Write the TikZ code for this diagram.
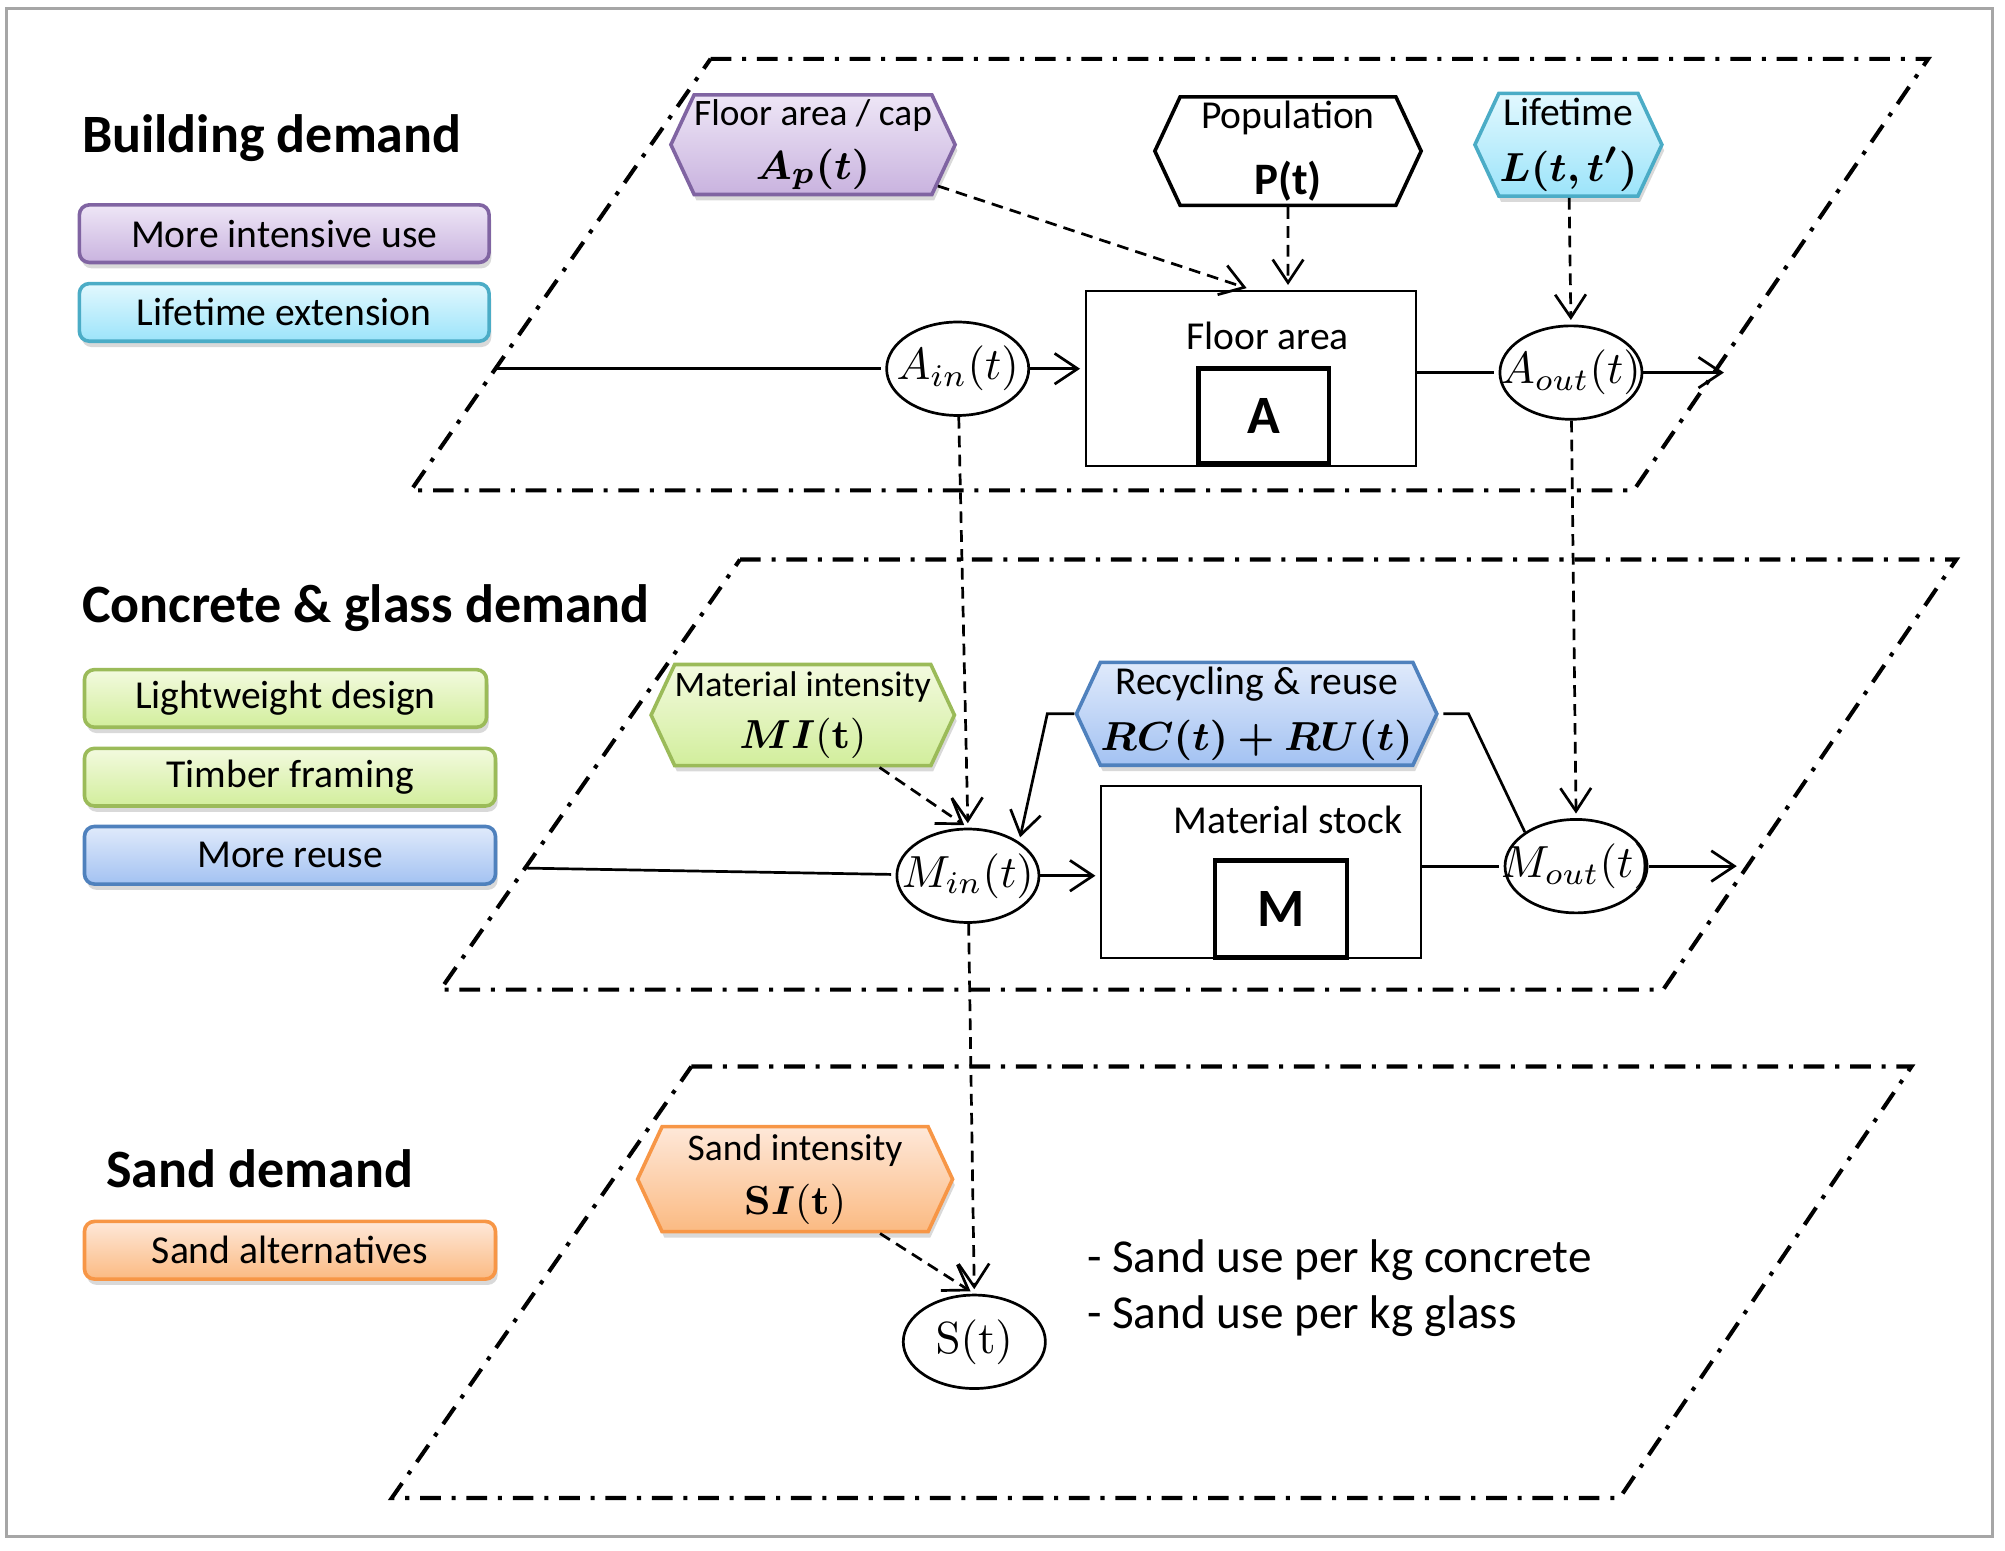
\documentclass[tikz,border=0pt]{standalone}
\usepackage[no-math]{fontspec}
\setmainfont{Carlito}
\usepackage{amsmath,bm}
\usetikzlibrary{arrows.meta,shapes.geometric,shapes.symbols,shadows}

\definecolor{lilacline}{HTML}{8064A2}
\definecolor{lilactop}{HTML}{EEE6F6}
\definecolor{lilacbot}{HTML}{C9B3DF}
\definecolor{aqualine}{HTML}{4BACC6}
\definecolor{aquatop}{HTML}{E2F8FE}
\definecolor{aquabot}{HTML}{9CE4FA}
\definecolor{limeline}{HTML}{9BBB59}
\definecolor{limetop}{HTML}{F3FADF}
\definecolor{limebot}{HTML}{D2EE9C}
\definecolor{azureline}{HTML}{4F81BD}
\definecolor{azuretop}{HTML}{E0EAFB}
\definecolor{azurebot}{HTML}{A3C2F2}
\definecolor{amberline}{HTML}{F79646}
\definecolor{ambertop}{HTML}{FEE8D9}
\definecolor{amberbot}{HTML}{FBBA82}

\begin{document}
\begin{tikzpicture}[>={Straight Barb[length=1.8mm,width=2.4mm]},shorten >=1pt,line width=0.6pt]
  \tikzset{every node/.style={font=\fontsize{8.8}{10.5}\selectfont},
    layer/.style={line width=0.9pt,dash pattern=on 4.6pt off 2.4pt on 0.9pt off 2.4pt},
    heading/.style={anchor=west,inner sep=0pt,font=\fontsize{12}{14}\selectfont\bfseries},
    lever/.style={draw,rounded corners=2.2pt,line width=0.8pt,minimum width=3.2cm,minimum height=0.45cm,inner sep=0pt,
      drop shadow={shadow xshift=0.5pt,shadow yshift=-1.3pt,opacity=0.3}},
    param/.style={signal,signal to=west and east,signal pointer angle=130,draw,line width=0.8pt,align=center,inner xsep=0pt,inner ysep=1pt},
    shade/.style={drop shadow={shadow xshift=0.5pt,shadow yshift=-1.3pt,opacity=0.3}},
    flow/.style={ellipse,draw,minimum width=1.11cm,minimum height=0.73cm,inner sep=0pt,font=\fontsize{9.6}{11.5}\selectfont},
    stock/.style={draw,line width=0.5pt},
    core/.style={draw,line width=1pt,font=\fontsize{12}{14}\selectfont\bfseries},
    dashflow/.style={dash pattern=on 2.6pt off 1.6pt},
    lilac/.style={draw=lilacline,top color=lilactop,bottom color=lilacbot},
    aqua/.style={draw=aqualine,top color=aquatop,bottom color=aquabot},
    lime/.style={draw=limeline,top color=limetop,bottom color=limebot},
    azure/.style={draw=azureline,top color=azuretop,bottom color=azurebot},
    amber/.style={draw=amberline,top color=ambertop,bottom color=amberbot}}
  \useasboundingbox (0,0) rectangle (15.66,-12.114);
  \draw[gray!70,line width=0.65pt] (0.05,-0.065) rectangle (15.56,-12.00);

  \draw[layer] (5.55,-0.46) -- (15.06,-0.46) -- (12.76,-3.83) -- (3.21,-3.83) -- cycle;
  \draw[layer] (5.78,-4.37) -- (15.28,-4.37) -- (12.99,-7.73) -- (3.44,-7.73) -- cycle;
  \draw[layer] (5.40,-8.33) -- (14.93,-8.33) -- (12.65,-11.70) -- (3.06,-11.70) -- cycle;

  \node[heading] (bd) at (0.63,-1.08) {Building demand};
  \node[heading] (cd) at (0.63,-4.75) {Concrete \& glass demand};
  \node[heading] (sd) at (0.82,-9.13) {Sand demand};

  \node[lever,lilac] (use) at (2.22,-1.825) {More intensive use};
  \node[lever,aqua] (ext) at (2.22,-2.44) {Lifetime extension};
  \node[lever,lime,minimum width=3.14cm] (light) at (2.23,-5.455) {Lightweight design};
  \node[lever,lime,minimum width=3.21cm] (timber) at (2.265,-6.07) {Timber framing};
  \node[lever,azure,minimum width=3.21cm] (reuse) at (2.265,-6.68) {More reuse};
  \node[lever,amber,minimum width=3.21cm] (alt) at (2.265,-9.765) {Sand alternatives};

  \node[param,lilac,shade,minimum width=2.16cm,minimum height=0.76cm,font=\fontsize{8.3}{10}\selectfont] (FAcap) at (6.35,-1.13) {Floor area / cap\\[2pt]{\fontsize{9.5}{11}\selectfont$\bm{A_p(t)}$}};
  \node[param,fill=white,minimum width=2.08cm,minimum height=0.81cm] (Pop) at (10.06,-1.18) {Population\\[4pt]{\fontsize{10}{12}\selectfont\bfseries P(t)}};
  \node[param,aqua,shade,minimum width=1.46cm,minimum height=0.80cm] (Life) at (12.25,-1.13) {Lifetime\\[2pt]{\fontsize{9.5}{11}\selectfont$\bm{L(t,t')}$}};
  \node[flow] (Ain) at (7.48,-2.88) {\makebox[0pt]{$A_{in}(t)$}};
  \node[stock,minimum width=2.58cm,minimum height=1.37cm] (FA) at (9.77,-2.955) {};
  \node (FAtext) at (9.90,-2.62) {Floor area};
  \node[core,minimum width=1.02cm,minimum height=0.74cm] (A) at (9.87,-3.25) {A};
  \node[flow] (Aout) at (12.27,-2.91) {\makebox[0pt]{$A_{out}(t)$}};
  \coordinate (Ain0) at (3.86,-2.88);
  \coordinate (Aend) at (13.50,-2.91);

  \node[param,lime,shade,minimum width=2.31cm,minimum height=0.79cm,font=\fontsize{7.95}{9.5}\selectfont] (MI) at (6.27,-5.585) {Material intensity\\[2pt]{\fontsize{9.5}{11}\selectfont$\bm{MI}(\mathbf{t})$}};
  \node[param,azure,shade,minimum width=2.69cm,minimum height=0.77cm] (RR) at (9.815,-5.575) {Recycling \& reuse\\[2pt]{\fontsize{8.6}{10}\selectfont$\bm{RC(t)+RU(t)}$}};
  \node[flow] (Min) at (7.56,-6.84) {\makebox[0pt]{$M_{in}(t)$}};
  \node[stock,minimum width=2.50cm,minimum height=1.34cm] (MS) at (9.85,-6.81) {};
  \node (MStext) at (10.06,-6.40) {Material stock};
  \node[core,minimum width=1.03cm,minimum height=0.76cm] (M) at (10.005,-7.10) {M};
  \node[flow] (Mout) at (12.31,-6.765) {\makebox[0pt]{$M_{out}(t)$}};
  \coordinate (Min0) at (4.09,-6.78);
  \coordinate (Mend) at (13.60,-6.765);
  \coordinate (RRr) at (11.47,-5.575);
  \coordinate (RRl) at (8.18,-5.575);

  \node[param,amber,shade,minimum width=2.46cm,minimum height=0.82cm,font=\fontsize{8.35}{10}\selectfont] (SI) at (6.21,-9.21) {Sand intensity\\[2pt]{\fontsize{9.5}{11}\selectfont$\mathbf{S}\bm{I}(\mathbf{t})$}};
  \node[flow] (S) at (7.61,-10.48) {\makebox[0pt]{$\mathrm{S(t)}$}};
  \node[anchor=west,align=left,inner sep=0pt,font=\fontsize{10.5}{12.6}\selectfont] (uses) at (8.48,-10.06) {- Sand use per kg concrete\\- Sand use per kg glass};

  \path (Ain0) edge (Ain);
  \path[->] (Ain) edge (Ain -| FA.west);
  \path (Aout -| FA.east) edge (Aout);
  \path[->] (Aout) edge (Aend);
  \path[->,dashflow] (FAcap) edge (FA.north);
  \path[->,dashflow] (Pop) edge (Pop |- FA.north);
  \path[->,dashflow] (Life) edge (Aout.north);
  \path[->,dashflow] (Ain) edge (Min.north);
  \path[->,dashflow] (Aout) edge (Mout.north);
  \path (Min0) edge (Min);
  \path[->] (Min) edge (Min -| MS.west);
  \path (Mout -| MS.east) edge (Mout);
  \path[->] (Mout) edge (Mend);
  \path[->,dashflow] (MI) edge (Min.north);
  \draw (Mout.north west) -- (RRr) -- (RR.east);
  \draw[->] (RR.west) -- (RRl) -- (Min.north east);
  \path[->,dashflow] (Min) edge (S.north);
  \path[->,dashflow] (SI) edge (S.north);
\end{tikzpicture}
\end{document}
